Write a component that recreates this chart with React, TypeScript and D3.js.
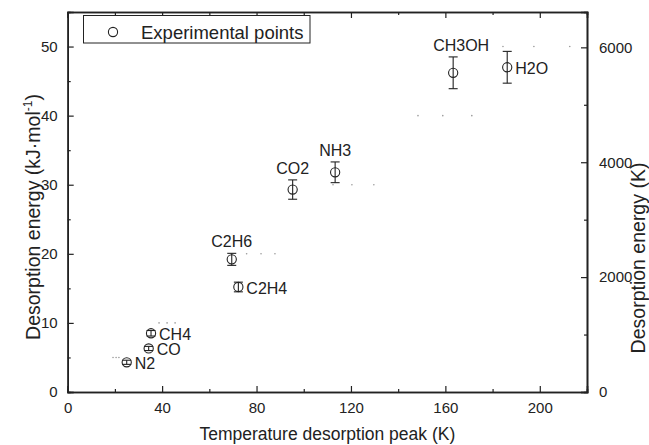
import * as d3 from 'd3';
import React from 'react';
import { useRef, useEffect } from "react";

// Experimental points
const species = ["N2", "CO", "CH4", "C2H4", "C2H6", "CO2", "NH3", "CH3OH", "H2O"];
const peakTemps = [25.0, 34.3, 35.3, 72.3, 69.5, 95.3, 113.3, 163.3, 186.2];
const energies = [4.3, 6.3, 8.5, 15.2, 19.2, 29.3, 31.8, 46.2, 47.0];
const energyErr = [0.3, 0.3, 0.4, 0.7, 0.87, 1.4, 1.5, 2.3, 2.3];
const labelSide = ["right", "right", "right", "right", "top", "top", "top", "top", "right"];

// Faint dotted reference series (energy vs temperature)
const refEnergies = [5, 10, 20, 30, 40, 50];
const refTempsA = [19.2, 38.7, 75.8, 112.4, 148.4, 184.4];
const refTempsB = [20.5, 42.1, 81.9, 120.4, 158.9, 197.5];
const refTempsC = [21.7, 45.5, 87.8, 129.7, 171.2, 212.7];

// Axis ticks
const xTicks = [0, 40, 80, 120, 160, 200];
const xMinor = [20, 60, 100, 140, 180];
const yTicks = [0, 10, 20, 30, 40, 50];
const yMinor = [5, 15, 25, 35, 45];
const kTicks = [0, 2000, 4000, 6000];
const kMinor = [1000, 3000, 5000];

const width = 649;
const height = 445;
const margin = { left: 67.7, right: 62, top: 12, bottom: 53 };
const font = "'Liberation Sans', Arial, sans-serif";

export default function App() {
    const svgRef = useRef(null);

    useEffect(() => {
        const svg = d3.select(svgRef.current);
        svg.selectAll("*").remove();

        const x0 = margin.left, x1 = width - margin.right;
        const y0 = height - margin.bottom, y1 = margin.top;

        const x = d3.scaleLinear().domain([0, 220]).range([x0, x1]);
        const y = d3.scaleLinear().domain([0, 55]).range([y0, y1]);
        // 1 kJ/mol = 1000/R K
        const yK = d3.scaleLinear().domain([0, 55 * 1000 / 8.314]).range([y0, y1]);

        const axisColor = "#222";

        // bottom axis
        const gB = svg.append('g').attr('transform', `translate(0,${y0})`);
        gB.call(d3.axisBottom(x).tickValues(xTicks).tickSize(-6).tickPadding(10).tickFormat(d3.format('d')));
        gB.append('g').call(d3.axisBottom(x).tickValues(xMinor).tickSize(-3).tickFormat(() => ''));
        // top axis
        const gT = svg.append('g').attr('transform', `translate(0,${y1})`);
        gT.call(d3.axisTop(x).tickValues(xTicks).tickSize(-6).tickFormat(() => ''));
        gT.append('g').call(d3.axisTop(x).tickValues(xMinor).tickSize(-3).tickFormat(() => ''));
        // left axis
        const gL = svg.append('g').attr('transform', `translate(${x0},0)`);
        gL.call(d3.axisLeft(y).tickValues(yTicks).tickSize(-6).tickPadding(10).tickFormat(d3.format('d')));
        gL.append('g').call(d3.axisLeft(y).tickValues(yMinor).tickSize(-3).tickFormat(() => ''));
        // right axis
        const gR = svg.append('g').attr('transform', `translate(${x1},0)`);
        gR.call(d3.axisRight(yK).tickValues(kTicks).tickSize(-6).tickPadding(12).tickFormat(d3.format('d')));
        gR.append('g').call(d3.axisRight(yK).tickValues(kMinor).tickSize(-3).tickFormat(() => ''));

        svg.selectAll('.domain').attr('stroke', axisColor).attr('stroke-width', 1.6);
        svg.selectAll('.tick line').attr('stroke', axisColor).attr('stroke-width', 1.2);
        svg.selectAll('.tick text').attr('font-family', font).attr('font-size', 15).attr('fill', '#222');

        // dotted reference series
        [refTempsA, refTempsB, refTempsC].forEach(temps => {
            svg.append('g').selectAll('circle').data(temps).enter().append('circle')
                .attr('cx', d => x(d))
                .attr('cy', (d, i) => y(refEnergies[i]))
                .attr('r', 0.8)
                .attr('fill', '#999');
        });

        // error bars
        const eb = svg.append('g').attr('stroke', '#222').attr('stroke-width', 1.1);
        species.forEach((s, i) => {
            const cx = x(peakTemps[i]);
            const yt = y(energies[i] + energyErr[i]);
            const yb = y(energies[i] - energyErr[i]);
            eb.append('line').attr('x1', cx).attr('x2', cx).attr('y1', yt).attr('y2', yb);
            eb.append('line').attr('x1', cx - 4.5).attr('x2', cx + 4.5).attr('y1', yt).attr('y2', yt);
            eb.append('line').attr('x1', cx - 4.5).attr('x2', cx + 4.5).attr('y1', yb).attr('y2', yb);
        });

        // points
        svg.append('g').selectAll('circle').data(species).enter().append('circle')
            .attr('cx', (d, i) => x(peakTemps[i]))
            .attr('cy', (d, i) => y(energies[i]))
            .attr('r', 4.6)
            .attr('fill', 'none')
            .attr('stroke', '#222')
            .attr('stroke-width', 1.1);

        // labels
        svg.append('g').selectAll('text').data(species).enter().append('text')
            .text(d => d)
            .attr('x', (d, i) => labelSide[i] === 'right' ? x(peakTemps[i]) + 8 : x(peakTemps[i]) + (d === "CH3OH" ? 8 : 0))
            .attr('y', (d, i) => labelSide[i] === 'right' ? y(energies[i]) + 7 : y(energies[i] + energyErr[i]) - 6)
            .attr('text-anchor', (d, i) => labelSide[i] === 'right' ? 'start' : 'middle')
            .attr('font-family', font)
            .attr('font-size', 16)
            .attr('fill', '#222');

        // legend
        const lg = svg.append('g');
        lg.append('rect').attr('x', 83.5).attr('y', 15.5).attr('width', 226.5).attr('height', 27.5)
            .attr('fill', 'white').attr('stroke', '#222').attr('stroke-width', 1);
        lg.append('circle').attr('cx', 113).attr('cy', 32).attr('r', 4.6)
            .attr('fill', 'none').attr('stroke', '#222').attr('stroke-width', 1.1);
        lg.append('text').attr('x', 141).attr('y', 39).text('Experimental points')
            .attr('font-family', font).attr('font-size', 18.5).attr('fill', '#222');

        // axis titles
        svg.append('text').attr('x', (x0 + x1) / 2).attr('y', 440).attr('text-anchor', 'middle')
            .attr('font-family', font).attr('font-size', 17.5).attr('fill', '#222')
            .text('Temperature desorption peak (K)');

        const lt = svg.append('text').attr('transform', `translate(40,217) rotate(-90)`)
            .attr('text-anchor', 'middle').attr('font-family', font).attr('font-size', 19.5).attr('fill', '#222');
        lt.append('tspan').text('Desorption energy (kJ·mol');
        lt.append('tspan').attr('font-size', 12).attr('dy', -8).text('-1');
        lt.append('tspan').attr('dy', 8).text(')');

        svg.append('text').attr('transform', `translate(645,258) rotate(-90)`)
            .attr('text-anchor', 'middle').attr('font-family', font).attr('font-size', 19.5).attr('fill', '#222')
            .text('Desorption energy (K)');
    }, []);

    return (
        <svg ref={svgRef} width={width} height={height}
            style={{ position: 'absolute', left: 0, top: 0, background: 'white' }}></svg>
    );
}
